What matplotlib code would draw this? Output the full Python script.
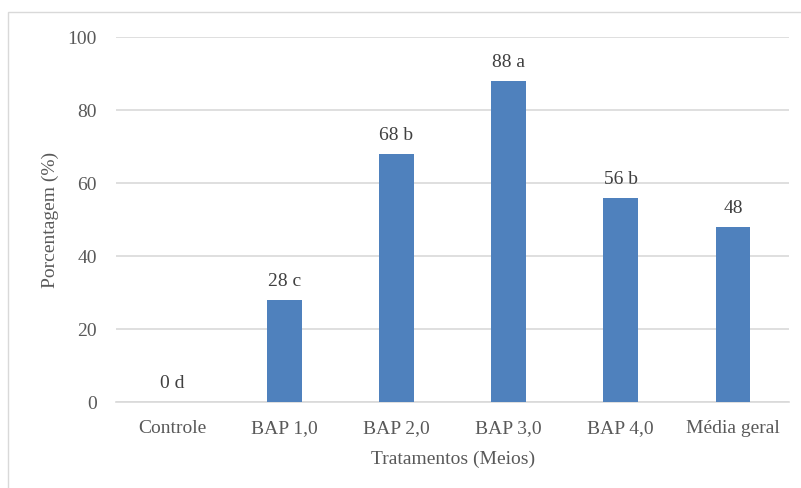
import matplotlib.pyplot as plt
import numpy as np
from matplotlib.patches import Rectangle

tratamentos = ['Controle', 'BAP 1,0', 'BAP 2,0', 'BAP 3,0', 'BAP 4,0', 'Média geral']
porcentagem = [0, 28, 68, 88, 56, 48]
rotulos = ['0 d', '28 c', '68 b', '88 a', '56 b', '48']

plt.rcParams['font.family'] = ['Liberation Serif', 'DejaVu Serif']
cor_texto = '#595959'

fig = plt.figure(figsize=(8.01, 4.88), dpi=100)
ax = fig.add_axes([0.145, 0.176, 0.84, 0.748])

x = np.arange(len(tratamentos))
ax.bar(x, porcentagem, width=0.31, color='#4F81BD', zorder=3)
for xi, v, r in zip(x, porcentagem, rotulos):
    ax.annotate(r, (xi, v), xytext=(0, 7), textcoords='offset points',
                ha='center', va='bottom', fontsize=14, color='#404040')

ax.set_ylim(0, 100)
ax.set_xlim(-0.5, len(tratamentos) - 0.5)
ax.set_yticks(np.arange(0, 101, 20))
ax.set_xticks(x)
ax.set_xticklabels(tratamentos)
ax.tick_params(axis='both', length=0, labelsize=14, colors=cor_texto)
ax.tick_params(axis='y', pad=14)
ax.tick_params(axis='x', pad=13)
ax.yaxis.grid(True, color='#D9D9D9', linewidth=1.2, zorder=0)
for s in ['top', 'right', 'left']:
    ax.spines[s].set_visible(False)
ax.spines['bottom'].set_color('#D9D9D9')
ax.spines['bottom'].set_linewidth(1.2)

ax.set_ylabel('Porcentagem (%)', fontsize=14, color=cor_texto, labelpad=6)
ax.set_xlabel('Tratamentos (Meios)', fontsize=14, color=cor_texto, labelpad=10)

# borda do grafico (so topo e esquerda aparecem no recorte)
fig.patches.append(Rectangle((8 / 801, -10 / 488), 820 / 801, 486 / 488, transform=fig.transFigure,
                             fill=False, edgecolor='#D9D9D9', linewidth=1))

plt.savefig('out.png', dpi=100)
